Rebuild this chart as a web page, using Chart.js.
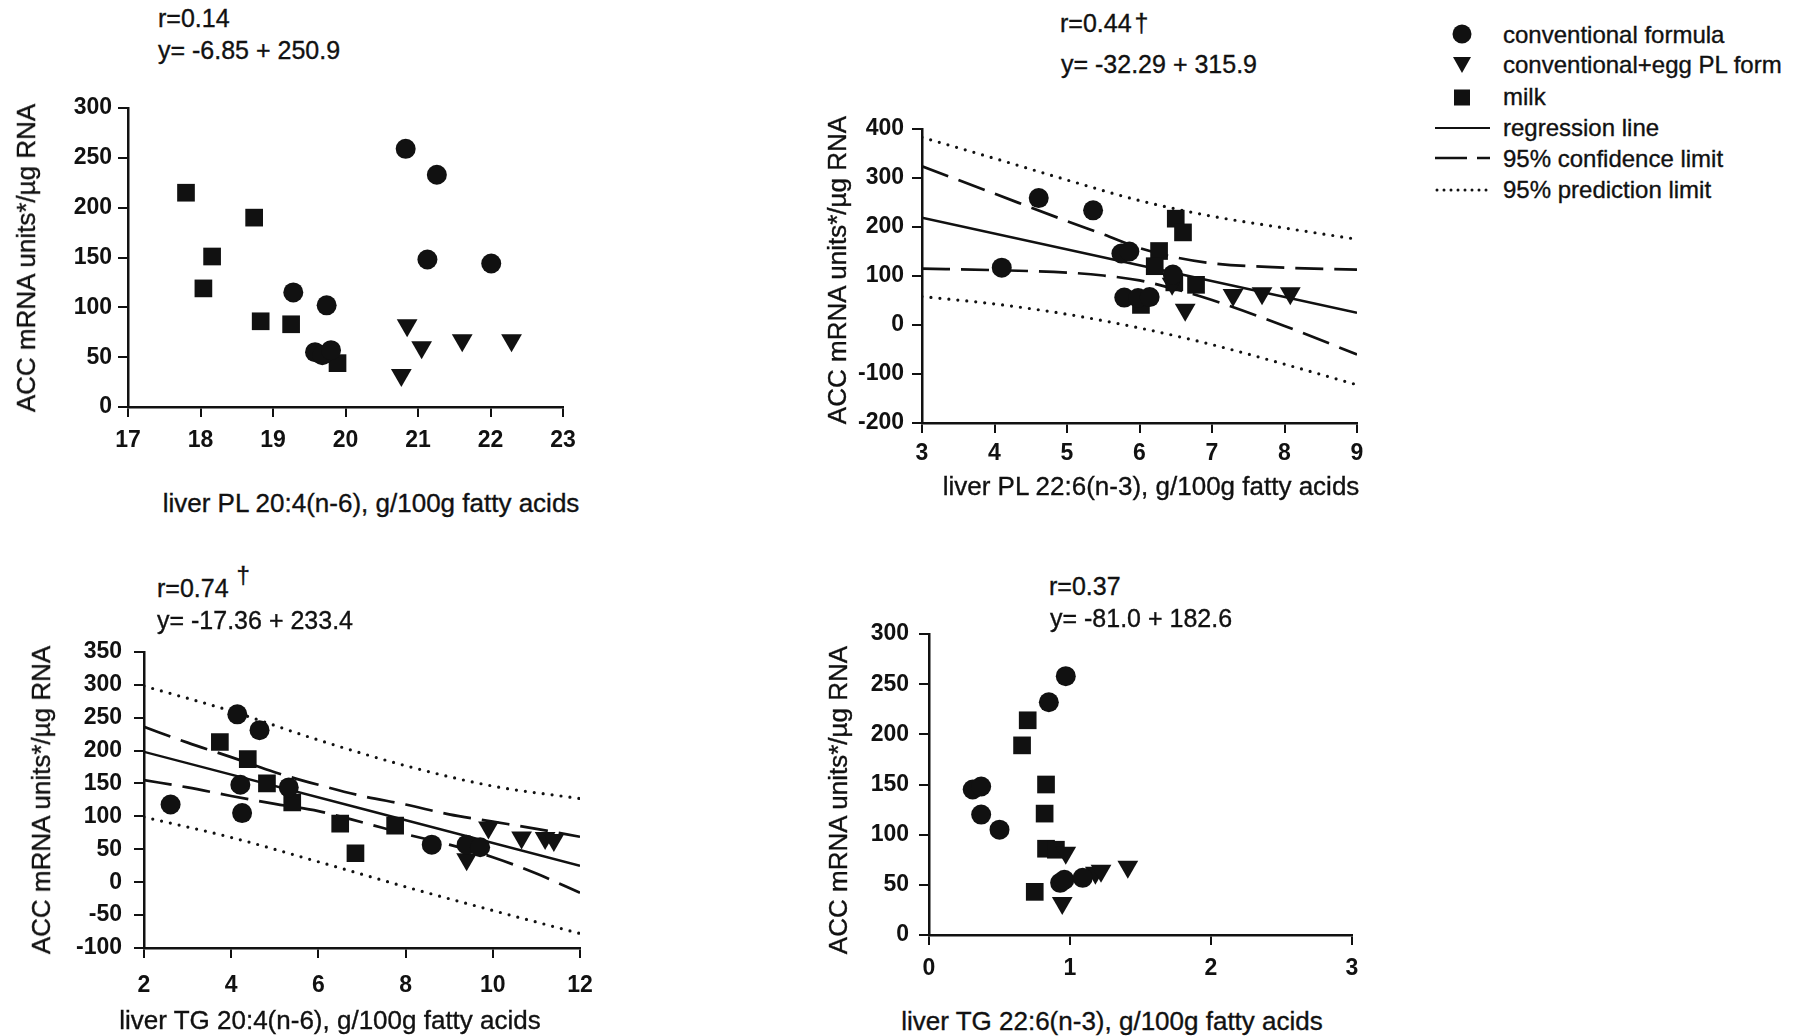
<!DOCTYPE html>
<html>
<head>
<meta charset="utf-8">
<script src="https://cdn.jsdelivr.net/npm/chart.js@4.4.1/dist/chart.umd.min.js"></script>
<style>
    body { margin: 0; width: 1803px; height: 1036px; position: relative; overflow: hidden; background: #fff;
           font-family: "Liberation Sans", Arial, sans-serif; color: #111; }
    .panel { position: absolute; }
    .note, .xt, .yt, .leg { -webkit-text-stroke: 0.35px #111; }
    .note { position: absolute; white-space: nowrap; font-size: 25px; line-height: 1; transform: translateY(-50%); }
    .note sup { font-size: 24px; position: relative; top: -4px; margin-left: 8px; }
    .xt { position: absolute; white-space: nowrap; font-size: 26px; line-height: 1; transform: translate(-50%, -50%); }
    .yt { position: absolute; white-space: nowrap; font-size: 26px; line-height: 1; transform: translate(-50%, -50%) rotate(-90deg); }
    .leg { position: absolute; left: 1503px; white-space: nowrap; font-size: 24px; line-height: 1; transform: translateY(-50%); }
    #legSym { position: absolute; left: 1420px; top: 0; }
</style>
</head>
<body>

<div class="panel" id="pA"><canvas></canvas></div>
<div class="panel" id="pB"><canvas></canvas></div>
<div class="panel" id="pC"><canvas></canvas></div>
<div class="panel" id="pD"><canvas></canvas></div>

<!-- annotations -->
<div class="note" style="left:158px;top:18px">r=0.14</div>
<div class="note" style="left:158px;top:50px">y= -6.85 + 250.9</div>
<div class="note" style="left:1060px;top:23px">r=0.44<span style="margin-left:3px">†</span></div>
<div class="note" style="left:1061px;top:64px">y= -32.29 + 315.9</div>
<div class="note" style="left:157px;top:584px">r=0.74<sup>†</sup></div>
<div class="note" style="left:157px;top:620px">y= -17.36 + 233.4</div>
<div class="note" style="left:1049px;top:586px">r=0.37</div>
<div class="note" style="left:1050px;top:618px">y= -81.0 + 182.6</div>

<!-- axis titles -->
<div class="xt" style="left:371px;top:503px">liver PL 20:4(n-6), g/100g fatty acids</div>
<div class="xt" style="left:1151px;top:486px">liver PL 22:6(n-3), g/100g fatty acids</div>
<div class="xt" style="left:330px;top:1020px">liver TG 20:4(n-6), g/100g fatty acids</div>
<div class="xt" style="left:1112px;top:1021px">liver TG 22:6(n-3), g/100g fatty acids</div>
<div class="yt" style="left:26px;top:258px">ACC mRNA units*/µg RNA</div>
<div class="yt" style="left:837px;top:270px">ACC mRNA units*/µg RNA</div>
<div class="yt" style="left:41px;top:800px">ACC mRNA units*/µg RNA</div>
<div class="yt" style="left:838px;top:800px">ACC mRNA units*/µg RNA</div>

<!-- legend -->
<svg id="legSym" width="90" height="210">
    <circle cx="42" cy="34" r="9.5" fill="#111"/>
    <polygon points="33,57 51,57 42,73" fill="#111"/>
    <rect x="34" y="89.5" width="16" height="16" fill="#111"/>
    <line x1="15" y1="128" x2="70" y2="128" stroke="#111" stroke-width="2"/>
    <line x1="15" y1="158" x2="70" y2="158" stroke="#111" stroke-width="2.5" stroke-dasharray="32 10 13"/>
    <line x1="17" y1="190" x2="68" y2="190" stroke="#111" stroke-width="3" stroke-dasharray="0 7" stroke-linecap="round"/>
</svg>
<div class="leg" style="top:35px">conventional formula</div>
<div class="leg" style="top:65px">conventional+egg PL form</div>
<div class="leg" style="top:97px">milk</div>
<div class="leg" style="top:128px">regression line</div>
<div class="leg" style="top:159px">95% confidence limit</div>
<div class="leg" style="top:190px">95% prediction limit</div>

<script>
    /* --- DATA (x, ACC mRNA) --- */
    // liver PL 20:4(n-6)
    const pl204Formula = [[20.83,259],[21.26,233],[21.13,148],[22.01,144],[19.28,115],[19.74,102],[19.58,55],[19.68,52],[19.80,57]];
    const pl204Egg     = [[20.85,82],[21.05,60],[21.61,67],[22.29,67],[20.77,32]];
    const pl204Milk    = [[17.80,215],[18.74,190],[18.16,151],[18.04,119],[18.83,86],[19.25,83],[19.89,44]];
    const pl204XTicks  = [17, 18, 19, 20, 21, 22, 23];
    const pl204YTicks  = [0, 50, 100, 150, 200, 250, 300];

    // liver PL 22:6(n-3)
    const pl226Formula = [[4.61,259],[5.36,234],[4.10,117],[5.75,146],[5.86,150],[5.79,56],[5.98,55],[6.14,57],[6.46,103]];
    const pl226Egg     = [[6.63,31],[7.29,61],[7.69,65],[8.08,65],[6.45,84]];
    const pl226Milk    = [[6.50,217],[6.60,189],[6.27,151],[6.21,120],[6.48,87],[6.78,82],[6.02,41]];
    const pl226Reg     = [[3,219],[9,25]];
    const pl226ConfHi  = [[3,324],[4,268],[5,212],[5.5,185],[6,157],[6.5,138],[7,126],[8,117],[9,113]];
    const pl226ConfLo  = [[3,115],[4,112],[5,107],[5.5,101],[6,91],[6.5,73],[7,51],[8,-2],[9,-60]];
    const pl226PredHi  = [[3,383],[4,340],[5,296],[6,254],[7,222],[8,198],[9,175]];
    const pl226PredLo  = [[3,58],[4,43],[5,22],[6,-6],[7,-40],[8,-80],[9,-122]];
    const pl226XTicks  = [3, 4, 5, 6, 7, 8, 9];
    const pl226YTicks  = [-200, -100, 0, 100, 200, 300, 400];

    // liver TG 20:4(n-6)
    const tg204Formula = [[2.61,118],[4.14,255],[4.65,231],[4.21,148],[4.25,105],[5.32,144],[8.60,57],[9.40,57],[9.71,53]];
    const tg204Egg     = [[9.40,35],[9.90,83],[10.66,68],[11.20,67],[11.40,64]];
    const tg204Milk    = [[3.74,213],[4.38,187],[4.82,150],[5.40,121],[6.50,89],[6.85,44],[7.76,86]];
    const tg204Reg     = [[2,198],[12,25]];
    const tg204ConfHi  = [[2,236],[3,212],[4,190],[5,167],[6,148],[7,131],[8,118],[9,103],[10,92],[11,81],[12,69]];
    const tg204ConfLo  = [[2,155],[3,144],[4,131],[5,119],[6,108],[7,91],[8,73],[9,57],[10,38],[11,13],[12,-16]];
    const tg204PredHi  = [[2,298],[4,260],[6,216],[8,177],[10,146],[12,127]];
    const tg204PredLo  = [[2,99],[4,68],[6,31],[8,-7],[10,-43],[12,-78]];
    const tg204XTicks  = [2, 4, 6, 8, 10, 12];
    const tg204YTicks  = [-100, -50, 0, 50, 100, 150, 200, 250, 300, 350];

    // liver TG 22:6(n-3)
    const tg226Formula = [[0.97,258],[0.85,232],[0.31,145],[0.37,148],[0.37,120],[0.50,105],[0.93,52],[0.96,55],[1.09,57]];
    const tg226Egg     = [[0.97,82],[0.945,32],[1.18,62],[1.22,64],[1.41,68]];
    const tg226Milk    = [[0.70,214],[0.66,189],[0.83,150],[0.82,121],[0.83,86],[0.90,85],[0.75,43]];
    const tg226XTicks  = [0, 1, 2, 3];
    const tg226YTicks  = [0, 50, 100, 150, 200, 250, 300];

    /* --- HELPERS --- */
    const INK = '#111';
    const toPts = arr => arr.map(([x, y]) => ({ x, y }));

    function markers(formula, egg, milk) {
        return [
            { data: toPts(formula), pointStyle: 'circle', pointRadius: 10, backgroundColor: INK, borderWidth: 0, order: 1 },
            { data: toPts(egg), pointStyle: 'triangle', pointRotation: 180, pointRadius: 12, backgroundColor: INK, borderWidth: 0, order: 1 },
            { data: toPts(milk), pointStyle: 'rect', pointRadius: 12.5, backgroundColor: INK, borderWidth: 0, order: 1 }
        ];
    }

    function curve(pts, kind) {
        const ds = { type: 'line', data: toPts(pts), borderColor: INK, pointRadius: 0, fill: false,
                     cubicInterpolationMode: 'monotone', order: 2 };
        if (kind === 'solid') { ds.borderWidth = 2.4; }
        if (kind === 'dash')  { ds.borderWidth = 2.7; ds.borderDash = [28, 11]; }
        if (kind === 'dot')   { ds.borderWidth = 3.2; ds.borderDash = [0, 9]; ds.borderCapStyle = 'round'; }
        return ds;
    }

    // area = [left, top, right, bottom] of the plot box in page px
    function makePanel(id, area, xTicks, yTicks, datasets, yPad, xPad) {
        const W = 100, T = 25, R = 30, B = 70;
        const box = document.getElementById(id);
        box.style.left = (area[0] - W) + 'px';
        box.style.top = (area[1] - T) + 'px';
        box.style.width = (area[2] - area[0] + W + R) + 'px';
        box.style.height = (area[3] - area[1] + T + B) + 'px';

        const axis = (ticks, isX, pad) => ({
            type: 'linear',
            min: ticks[0], max: ticks[ticks.length - 1],
            afterBuildTicks: s => { s.ticks = ticks.map(v => ({ value: v })); },
            afterFit: s => { if (isX) s.height = B; else s.width = W; },
            border: { color: INK, width: 2.5 },
            grid: { drawOnChartArea: false, color: INK, lineWidth: 2, tickLength: 10 },
            ticks: { color: INK, padding: pad, autoSkip: false, maxRotation: 0,
                     font: { family: '"Liberation Sans", Arial, sans-serif', size: 23, weight: 'bold' } }
        });

        return new Chart(box.querySelector('canvas'), {
            type: 'scatter',
            data: { datasets },
            options: {
                responsive: true, maintainAspectRatio: false, animation: false,
                layout: { padding: { left: 0, top: T, right: R, bottom: 0 } },
                plugins: { legend: { display: false }, tooltip: { enabled: false } },
                scales: { x: axis(xTicks, true, xPad), y: axis(yTicks, false, yPad) }
            }
        });
    }

    /* --- PANELS --- */
    makePanel('pA', [128, 108, 563, 407], pl204XTicks, pl204YTicks,
        markers(pl204Formula, pl204Egg, pl204Milk), 6, 10);

    makePanel('pB', [922, 129, 1357, 423], pl226XTicks, pl226YTicks,
        markers(pl226Formula, pl226Egg, pl226Milk).concat([
            curve(pl226Reg, 'solid'),
            curve(pl226ConfHi, 'dash'), curve(pl226ConfLo, 'dash'),
            curve(pl226PredHi, 'dot'), curve(pl226PredLo, 'dot')
        ]), 8, 7);

    makePanel('pC', [144, 651, 580, 948], tg204XTicks, tg204YTicks,
        markers(tg204Formula, tg204Egg, tg204Milk).concat([
            curve(tg204Reg, 'solid'),
            curve(tg204ConfHi, 'dash'), curve(tg204ConfLo, 'dash'),
            curve(tg204PredHi, 'dot'), curve(tg204PredLo, 'dot')
        ]), 12, 14);

    makePanel('pD', [929, 634, 1352, 935], tg226XTicks, tg226YTicks,
        markers(tg226Formula, tg226Egg, tg226Milk), 10, 10);
</script>
</body>
</html>
